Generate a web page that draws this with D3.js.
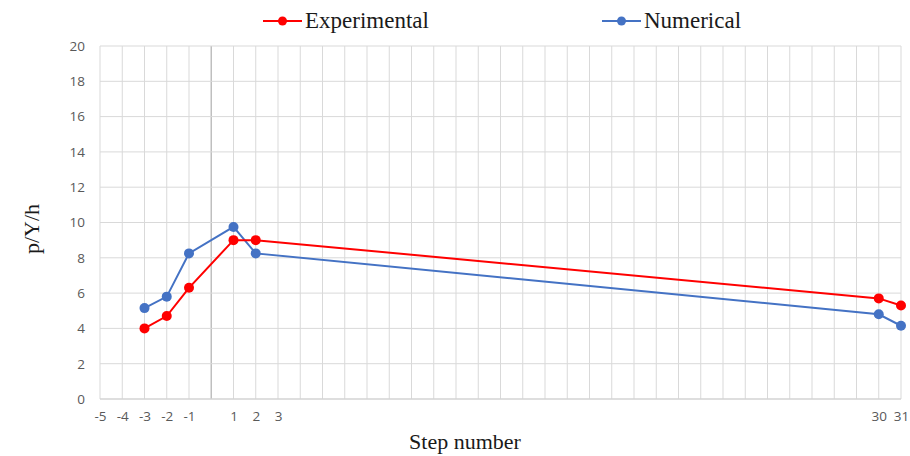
<!DOCTYPE html>
<html>
<head>
<meta charset="utf-8">
<script src="https://cdn.jsdelivr.net/npm/d3@7"></script>
<style>
  body { margin: 0; background: #fff; }
</style>
</head>
<body>
<div id="chart"></div>
<script>
// data
var steps = [-3, -2, -1, 1, 2, 30, 31];
var experimental = [4.0, 4.7, 6.3, 9.0, 9.0, 5.7, 5.3];
var numerical = [5.15, 5.8, 8.25, 9.75, 8.25, 4.8, 4.15];
var xTickLabels = [-5, -4, -3, -2, -1, 1, 2, 3, 30, 31];
var yTicks = [0, 2, 4, 6, 8, 10, 12, 14, 16, 18, 20];

var width = 910, height = 456;
var margin = { top: 46, right: 9, bottom: 57, left: 100 };

var svg = d3.select("#chart")
  .append("svg")
  .attr("width", width)
  .attr("height", height);

var x = d3.scaleLinear()
  .domain([-5, 31])
  .range([margin.left, width - margin.right]);

var y = d3.scaleLinear()
  .domain([0, 20])
  .range([height - margin.bottom, margin.top]);

// vertical grid at every step
svg.append("g")
  .selectAll("line")
  .data(d3.range(-5, 32))
  .enter()
  .append("line")
  .attr("x1", function(d) { return x(d); })
  .attr("x2", function(d) { return x(d); })
  .attr("y1", y(0))
  .attr("y2", y(20))
  .attr("stroke", function(d) { return d === 0 ? "#bfbfbf" : "#d9d9d9"; })
  .attr("stroke-width", function(d) { return d === 0 ? 1.5 : 1; });

// horizontal grid
svg.append("g")
  .selectAll("line")
  .data(yTicks)
  .enter()
  .append("line")
  .attr("x1", x(-5))
  .attr("x2", x(31))
  .attr("y1", function(d) { return y(d); })
  .attr("y2", function(d) { return y(d); })
  .attr("stroke", "#d9d9d9");

// y axis labels
var yAxis = svg.append("g")
  .attr("transform", "translate(" + (margin.left - 15) + ",0)")
  .call(d3.axisLeft(y).tickValues(yTicks).tickSize(0).tickPadding(0));
yAxis.select(".domain").remove();
yAxis.selectAll("text")
  .style("font-family", "Open Sans, sans-serif")
  .style("font-size", "13.5px")
  .style("fill", "#595959");

// x axis labels (plain hyphen for negatives, like the original)
var xAxis = svg.append("g")
  .attr("transform", "translate(0," + (y(0) + 12) + ")")
  .call(d3.axisBottom(x).tickValues(xTickLabels).tickSize(0).tickPadding(0)
    .tickFormat(function(d) { return String(d); }));
xAxis.select(".domain").remove();
xAxis.selectAll("text")
  .style("font-family", "Open Sans, sans-serif")
  .style("font-size", "13.5px")
  .style("fill", "#595959");

// bottom axis line
svg.append("line")
  .attr("x1", x(-5)).attr("x2", x(31))
  .attr("y1", y(0)).attr("y2", y(0))
  .attr("stroke", "#d0d0d0");

var series = [
  { name: "Experimental", values: experimental, color: "#ff0000" },
  { name: "Numerical", values: numerical, color: "#4472c4" }
];

var line = d3.line()
  .x(function(d) { return x(d[0]); })
  .y(function(d) { return y(d[1]); });

// draw numerical first so red sits on top where they cross
[series[1], series[0]].forEach(function(s) {
  var pts = steps.map(function(st, i) { return [st, s.values[i]]; });
  svg.append("path")
    .datum(pts)
    .attr("fill", "none")
    .attr("stroke", s.color)
    .attr("stroke-width", 2)
    .attr("d", line);
  svg.append("g")
    .selectAll("circle")
    .data(pts)
    .enter()
    .append("circle")
    .attr("cx", function(d) { return x(d[0]); })
    .attr("cy", function(d) { return y(d[1]); })
    .attr("r", 5)
    .attr("fill", s.color);
});

// legend
var legendX = [263, 602];
series.forEach(function(s, i) {
  var g = svg.append("g").attr("transform", "translate(" + legendX[i] + ",21)");
  g.append("line")
    .attr("x1", 0).attr("x2", 39)
    .attr("stroke", s.color).attr("stroke-width", 2);
  g.append("circle")
    .attr("cx", 19.5).attr("r", 4.5)
    .attr("fill", s.color);
  g.append("text")
    .attr("x", 42)
    .attr("y", 7)
    .style("font-family", "Liberation Serif, serif")
    .style("font-size", "23px")
    .style("fill", "#1a1a1a")
    .text(s.name);
});

// axis titles
svg.append("text")
  .attr("text-anchor", "middle")
  .attr("x", 465)
  .attr("y", 449)
  .style("font-family", "Liberation Serif, serif")
  .style("font-size", "22px")
  .style("fill", "#1a1a1a")
  .text("Step number");

svg.append("text")
  .attr("text-anchor", "middle")
  .attr("transform", "translate(39,229) rotate(-90)")
  .style("font-family", "Liberation Serif, serif")
  .style("font-size", "22px")
  .style("fill", "#1a1a1a")
  .text("p/Υ/h");
</script>
</body>
</html>
